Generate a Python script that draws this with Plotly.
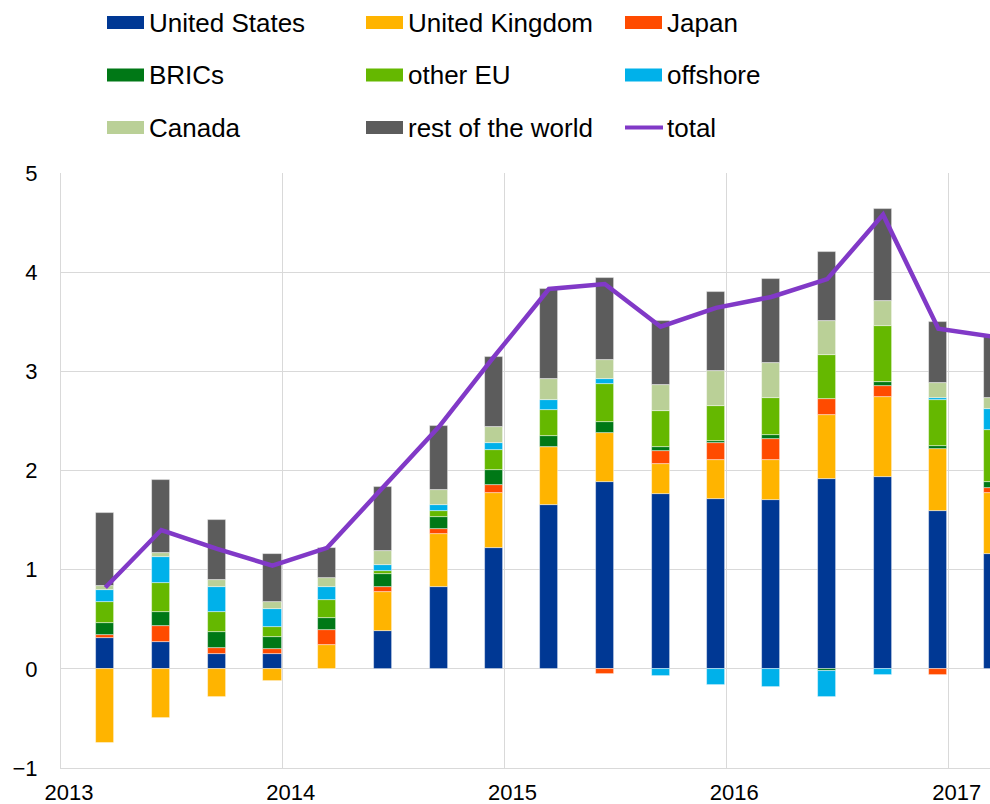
import plotly.graph_objects as go

# ---------------- data ----------------
quarters = ["2013-03-15", "2013-06-15", "2013-09-15", "2013-12-15",
            "2014-03-15", "2014-06-15", "2014-09-15", "2014-12-15",
            "2015-03-15", "2015-06-15", "2015-09-15", "2015-12-15",
            "2016-03-15", "2016-06-15", "2016-09-15", "2016-12-15",
            "2017-03-15"]

united_states = [0.315, 0.267, 0.151, 0.147, 0.0, 0.386, 0.824, 1.222, 1.656,
                 1.883, 1.764, 1.708, 1.700, 1.915, 1.935, 1.588, 1.158]
united_kingdom = [-0.745, -0.50, -0.287, -0.12, 0.243, 0.39, 0.537, 0.553, 0.577,
                  0.498, 0.303, 0.398, 0.41, 0.645, 0.808, 0.633, 0.617]
japan = [0.03, 0.163, 0.06, 0.052, 0.147, 0.048, 0.048, 0.08, 0.0,
         -0.056, 0.131, 0.167, 0.207, 0.159, 0.107, -0.064, 0.048]
brics = [0.115, 0.139, 0.159, 0.127, 0.123, 0.135, 0.119, 0.155, 0.119,
         0.107, 0.036, 0.024, 0.044, -0.024, 0.044, 0.024, 0.06]
other_eu = [0.215, 0.299, 0.203, 0.092, 0.183, 0.028, 0.06, 0.199, 0.263,
            0.382, 0.362, 0.354, 0.374, 0.45, 0.561, 0.462, 0.529]
offshore = [0.115, 0.259, 0.251, 0.183, 0.127, 0.056, 0.068, 0.068, 0.1,
            0.056, -0.068, -0.159, -0.187, -0.255, -0.06, 0.02, 0.207]
canada = [0.048, 0.044, 0.072, 0.072, 0.088, 0.143, 0.143, 0.163, 0.207,
          0.191, 0.263, 0.354, 0.354, 0.342, 0.251, 0.151, 0.111]
rest_of_world = [0.73, 0.733, 0.609, 0.486, 0.307, 0.645, 0.649, 0.709, 0.908,
                 0.82, 0.653, 0.792, 0.844, 0.697, 0.928, 0.621, 0.617]
total = [0.82, 1.40, 1.21, 1.04, 1.22, 1.83, 2.44, 3.15, 3.83,
         3.88, 3.45, 3.64, 3.75, 3.93, 4.58, 3.43, 3.35]

year_ticks = ["2013-01-01", "2014-01-01", "2015-01-01", "2016-01-01", "2017-01-01"]
year_labels = ["2013", "2014", "2015", "2016", "2017"]
y_ticks = [-1, 0, 1, 2, 3, 4, 5]

series_names = ["United States", "United Kingdom", "Japan", "BRICs", "other EU",
                "offshore", "Canada", "rest of the world"]
series_values = [united_states, united_kingdom, japan, brics, other_eu,
                 offshore, canada, rest_of_world]
series_colors = ["#003894", "#FFB400", "#FF4B00", "#007816", "#65B800",
                 "#00B1EA", "#BAD097", "#5C5C5C"]
total_color = "#8139C7"

FONT = "Liberation Sans, Arial, sans-serif"
W, H = 990, 804
ML, MR, MT, MB = 61, 0, 173, 36
BAR_WIDTH_MS = 30 * 86400000

fig = go.Figure()
for name, vals, col in zip(series_names, series_values, series_colors):
    fig.add_trace(go.Bar(
        x=quarters, y=vals, name=name, width=BAR_WIDTH_MS,
        marker=dict(color=col, line=dict(color="rgba(255,255,255,0.55)", width=0.8)),
        showlegend=False,
    ))
fig.add_trace(go.Scatter(
    x=quarters, y=total, name="total", mode="lines",
    line=dict(color=total_color, width=4.5), showlegend=False,
))

# ---------------- custom legend (layout only) ----------------
def px_x(p):
    return (p - ML) / (W - ML - MR)

def px_y(p):
    return (H - MB - p) / (H - MT - MB)

legend_entries = list(zip(series_names, series_colors)) + [("total", total_color)]
col_x = [107, 366, 625]
row_y = [22.5, 75, 127.5]
shapes = []
annotations = []
for i, (name, col) in enumerate(legend_entries):
    cx = col_x[i % 3]
    cy = row_y[i // 3]
    if name == "total":
        shapes.append(dict(type="line", xref="paper", yref="paper",
                           x0=px_x(cx), x1=px_x(cx + 38), y0=px_y(cy), y1=px_y(cy),
                           line=dict(color=col, width=4)))
    else:
        shapes.append(dict(type="rect", xref="paper", yref="paper",
                           x0=px_x(cx), x1=px_x(cx + 37), y0=px_y(cy - 6.5), y1=px_y(cy + 6.5),
                           fillcolor=col, line=dict(width=0)))
    annotations.append(dict(text=name, xref="paper", yref="paper",
                            x=px_x(cx + 40), y=px_y(cy), xanchor="left", yanchor="middle",
                            showarrow=False, font=dict(family=FONT, size=26, color="#000000")))

fig.update_layout(
    width=W, height=H,
    margin=dict(l=ML, r=MR, t=MT, b=MB, autoexpand=False),
    paper_bgcolor="white", plot_bgcolor="white",
    barmode="relative", bargap=0,
    font=dict(family=FONT, size=22, color="#000000"),
    shapes=shapes, annotations=annotations,
    showlegend=False,
)
fig.update_xaxes(
    type="date", range=["2013-01-01", "2017-03-10"], automargin=False,
    tickmode="array", tickvals=year_ticks, ticktext=year_labels,
    showgrid=True, gridcolor="#D9D9D9", gridwidth=1,
    showline=True, linecolor="#D9D9D9", linewidth=1,
    ticks="", ticklabelshift=8, ticklabelstandoff=5,
    tickfont=dict(family=FONT, size=22, color="#000000"),
)
fig.update_yaxes(
    range=[-1, 5], tickmode="array", tickvals=y_ticks, automargin=False,
    showgrid=True, gridcolor="#D9D9D9", gridwidth=1,
    zeroline=True, zerolinecolor="#D9D9D9", zerolinewidth=1,
    showline=True, linecolor="#D9D9D9", linewidth=1,
    ticks="", ticklabelstandoff=18,
    tickfont=dict(family=FONT, size=22, color="#000000"),
)

# remove the default 8px page margin so the 990x804 figure fills the window exactly
fig.write_html(
    "out.html",
    config={"displayModeBar": False},
    post_script="document.body.style.margin='0';document.body.style.overflow='hidden';",
)
